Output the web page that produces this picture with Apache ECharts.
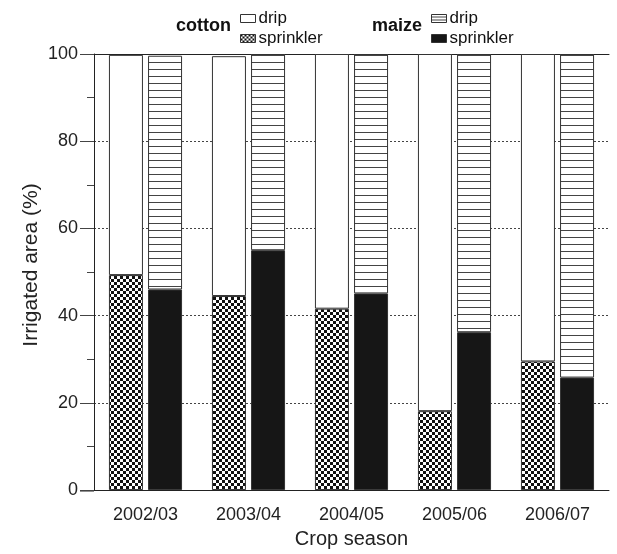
<!DOCTYPE html>
<html>
<head>
<meta charset="utf-8">
<script src="https://cdn.jsdelivr.net/npm/echarts@6/dist/echarts.min.js"></script>
<style>
  html, body { margin: 0; padding: 0; background: #fff; }
  #main { width: 617px; height: 554px; }
</style>
</head>
<body>
<div id="main"></div>
<script>
// data
var seasons = ['2002/03', '2003/04', '2004/05', '2005/06', '2006/07'];
var cottonSprinkler = [49.3, 44.5, 41.6, 18.1, 29.5];
var cottonDrip = [50.5, 55.0, 58.4, 81.9, 70.5];
var maizeSprinkler = [46.0, 55.0, 45.1, 36.2, 25.8];
var maizeDrip = [53.6, 45.0, 54.9, 63.8, 74.2];
var yTicks = [0, 20, 40, 60, 80, 100];

var font = 'Liberation Sans';

// fill patterns
function checker(s) {
  var c = document.createElement('canvas');
  c.width = 2 * s; c.height = 2 * s;
  var g = c.getContext('2d');
  g.fillStyle = '#fff'; g.fillRect(0, 0, 2 * s, 2 * s);
  g.fillStyle = '#111';
  g.fillRect(0, 0, s, s);
  g.fillRect(s, s, s, s);
  return { image: c, repeat: 'repeat' };
}
function stripes(p) {
  var c = document.createElement('canvas');
  c.width = 8; c.height = p;
  var g = c.getContext('2d');
  g.fillStyle = '#fff'; g.fillRect(0, 0, 8, p);
  g.fillStyle = '#444';
  g.fillRect(0, p - 1, 8, 1);
  return { image: c, repeat: 'repeat' };
}

var border = { borderColor: '#333', borderWidth: 1 };
function bar(name, stack, data, color) {
  return {
    name: name, type: 'bar', stack: stack, data: data,
    barWidth: 34, barGap: '15%', barCategoryGap: '29%',
    itemStyle: Object.assign({ color: color }, border),
    emphasis: { disabled: true }
  };
}

var legendBase = {
  orient: 'vertical', top: 10, padding: 0, itemGap: 3,
  itemWidth: 15, itemHeight: 8, icon: 'rect',
  itemStyle: { borderColor: '#333', borderWidth: 1 },
  textStyle: { fontSize: 17, color: '#111', fontFamily: font, padding: [0, 0, 0, -2] },
  formatter: function (n) { return n.split(' ')[1]; },
  selectedMode: false
};

var chart = echarts.init(document.getElementById('main'));
chart.setOption({
  animation: false,
  textStyle: { fontFamily: font },
  grid: { left: 94, right: 8, top: 54, bottom: 63 },
  legend: [
    Object.assign({ left: 240, data: [
      { name: 'cotton drip', itemStyle: { color: '#fff' } },
      { name: 'cotton sprinkler', itemStyle: { color: checker(2) } }
    ] }, legendBase),
    Object.assign({ left: 431, data: [
      { name: 'maize drip', itemStyle: { color: stripes(3) } },
      { name: 'maize sprinkler', itemStyle: { color: '#161616' } }
    ] }, legendBase)
  ],
  graphic: [
    { type: 'text', right: 617 - 231, top: 17,
      style: { text: 'cotton', fontFamily: font, fontWeight: 'bold', fontSize: 18, fill: '#111' } },
    { type: 'text', right: 617 - 422, top: 17,
      style: { text: 'maize', fontFamily: font, fontWeight: 'bold', fontSize: 18, fill: '#111' } },
    { type: 'text', x: 31, y: 265, rotation: Math.PI / 2,
      style: { text: 'Irrigated area (%)', fontFamily: font, fontSize: 21, fill: '#222',
               align: 'center', verticalAlign: 'middle' } },
    { type: 'line', shape: { x1: 80, y1: 491, x2: 94, y2: 491 },
      style: { stroke: '#222', lineWidth: 1 } }
  ],
  xAxis: [
    {
      type: 'category', data: seasons, position: 'bottom',
      axisLine: { lineStyle: { color: '#222', width: 1 } },
      axisTick: { length: 12, lineStyle: { color: '#444' } },
      axisLabel: { fontSize: 18, color: '#222', fontFamily: font, margin: 16 },
      name: 'Crop season', nameLocation: 'middle', nameGap: 38,
      nameTextStyle: { fontSize: 20, color: '#222', fontFamily: font }
    },
    {
      type: 'category', data: seasons, position: 'bottom',
      axisLine: { show: false },
      axisTick: { alignWithLabel: true, length: 7, lineStyle: { color: '#444' } },
      axisLabel: { show: false }
    },
    {
      type: 'category', data: seasons, position: 'top',
      axisLine: { lineStyle: { color: '#222', width: 1 } },
      axisTick: { show: false }, axisLabel: { show: false }
    }
  ],
  yAxis: {
    type: 'value', min: yTicks[0], max: yTicks[yTicks.length - 1], interval: 20,
    axisLine: { show: true, lineStyle: { color: '#222' } },
    axisTick: { show: true, length: 14, lineStyle: { color: '#444' } },
    minorTick: { show: true, splitNumber: 2, length: 7, lineStyle: { color: '#444' } },
    axisLabel: { fontSize: 18, color: '#222', fontFamily: font, margin: 16 },
    splitLine: { show: true, lineStyle: { type: [2, 2], color: '#444', width: 1 } }
  },
  series: [
    bar('cotton sprinkler', 'cotton', cottonSprinkler, checker(3)),
    bar('cotton drip', 'cotton', cottonDrip, '#fff'),
    bar('maize sprinkler', 'maize', maizeSprinkler, '#161616'),
    bar('maize drip', 'maize', maizeDrip, stripes(7))
  ]
});
</script>
</body>
</html>
